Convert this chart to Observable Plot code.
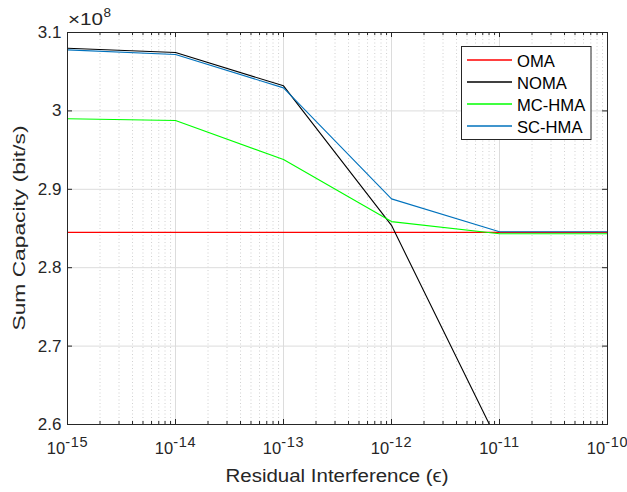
<!DOCTYPE html>
<html><head><meta charset="utf-8">
<script src="https://cdn.jsdelivr.net/npm/d3@7"></script>
<script src="https://cdn.jsdelivr.net/npm/@observablehq/plot@0.6"></script>
<style>
body{margin:0;background:#fff;font-family:"Liberation Sans",Arial,sans-serif;}
#wrap{position:relative;width:627px;height:492px;}
</style></head><body><div id="wrap"></div>
<script>
const epsilon = [1e-15, 1e-14, 1e-13, 1e-12, 1e-11, 1e-10];
const OMA    = [2.845, 2.845, 2.845, 2.845, 2.845, 2.845];
const NOMA   = [3.080, 3.0745, 3.032, 2.854, 2.574, 2.30];
const MC_HMA = [2.990, 2.9877, 2.938, 2.8588, 2.8433, 2.8433];
const SC_HMA = [3.0779, 3.0719, 3.0294, 2.8878, 2.8459, 2.8459];
const seriesNames  = ["OMA", "NOMA", "MC-HMA", "SC-HMA"];
const seriesColors = ["#ff0000", "#000000", "#00ff00", "#0072bd"];
const xTicks = [1e-15, 1e-14, 1e-13, 1e-12, 1e-11, 1e-10];
const yTicks = [2.6, 2.7, 2.8, 2.9, 3.0, 3.1];
const yMultiplierExp = "8";
const xLabel = "Residual Interference (ϵ)";
const yLabel = "Sum Capacity (bit/s)";

const seriesValues = [OMA, NOMA, MC_HMA, SC_HMA];
const rows = [];
seriesNames.forEach((s, i) => epsilon.forEach((e, j) => rows.push({series: s, x: e, y: seriesValues[i][j]})));
const minorX = [];
for (let d = -15; d < -10; d++) for (let k = 2; k <= 9; k++) minorX.push(k * Math.pow(10, d));

const W = 627, H = 492, mL = 67, mR = 20, mT = 32, mB = 68;
const pxY = (3.1 - 2.6) / (H - mT - mB);
const decPerPx = 5 / (W - mL - mR);
const tl = 5, tlm = 3;

const plot = Plot.plot({
  width: W, height: H, marginLeft: mL, marginRight: mR, marginTop: mT, marginBottom: mB,
  x: {type: "log", domain: [1e-15, 1e-10]},
  y: {domain: [2.6, 3.1]},
  color: {domain: seriesNames, range: seriesColors},
  style: {fontFamily: "'Liberation Sans', Arial, sans-serif", fontSize: "16px", color: "#262626", background: "white"},
  marks: [
    Plot.ruleX(minorX, {stroke: "#c4c4c4", strokeDasharray: "1,2.5", strokeWidth: 0.8}),
    Plot.ruleX(xTicks, {stroke: "#dcdcdc", strokeWidth: 1}),
    Plot.ruleY(yTicks, {stroke: "#dcdcdc", strokeWidth: 1}),
    Plot.line(rows, {x: "x", y: "y", stroke: "series", strokeWidth: 1.1, clip: true}),
    Plot.ruleX(xTicks, {x: d => d, y1: 2.6, y2: 2.6 + tl * pxY, stroke: "#262626"}),
    Plot.ruleX(xTicks, {x: d => d, y1: 3.1 - tl * pxY, y2: 3.1, stroke: "#262626"}),
    Plot.ruleX(minorX, {x: d => d, y1: 2.6, y2: 2.6 + tlm * pxY, stroke: "#262626"}),
    Plot.ruleX(minorX, {x: d => d, y1: 3.1 - tlm * pxY, y2: 3.1, stroke: "#262626"}),
    Plot.ruleY(yTicks, {y: d => d, x1: 1e-15, x2: 1e-15 * Math.pow(10, tl * decPerPx), stroke: "#262626"}),
    Plot.ruleY(yTicks, {y: d => d, x1: 1e-10 / Math.pow(10, tl * decPerPx), x2: 1e-10, stroke: "#262626"}),
    Plot.frame({stroke: "#262626"}),
    Plot.axisX(xTicks, {tickSize: 0, tickPadding: 18, fontSize: 16.5, tickFormat: d => "10^" + Math.round(Math.log10(d)), label: null}),
    Plot.axisY(yTicks, {tickSize: 0, tickPadding: 6, fontSize: 17, tickFormat: d => String(+d.toFixed(1)), label: null})
  ]
});

const svg = d3.select(plot);
svg.select('g[aria-label="x-axis tick label"]').selectAll("text").each(function () {
  const t = this.textContent.split("^");
  const s = d3.select(this);
  s.text(null);
  s.append("tspan").text(t[0]);
  s.append("tspan").attr("dy", "-7.5").attr("font-size", "14.5px").attr("letter-spacing", "0.7").text(t[1]);
});
svg.append("text").attr("x", 337).attr("y", 482).attr("text-anchor", "middle")
  .attr("font-size", 17.5).attr("fill", "#262626")
  .attr("textLength", 223).attr("lengthAdjust", "spacingAndGlyphs").text(xLabel);
svg.append("text").attr("transform", "translate(25,228) rotate(-90)").attr("text-anchor", "middle")
  .attr("font-size", 17).attr("fill", "#262626")
  .attr("textLength", 205).attr("lengthAdjust", "spacingAndGlyphs").text(yLabel);
svg.append("text").attr("x", 68).attr("y", 25).attr("text-anchor", "start").attr("font-size", 16).attr("fill", "#262626")
  .attr("textLength", 35).attr("lengthAdjust", "spacingAndGlyphs").text("×10");
svg.append("text").attr("x", 103.5).attr("y", 16.5).attr("text-anchor", "start").attr("font-size", 13.5).attr("fill", "#262626").text(yMultiplierExp);

// legend
const lg = svg.append("g").attr("text-anchor", "start");
lg.append("rect").attr("x", 461.5).attr("y", 46.5).attr("width", 129.5).attr("height", 93)
  .attr("fill", "white").attr("stroke", "#262626").attr("stroke-width", 1);
const lineYs = [60, 82, 104, 126];
seriesNames.forEach((s, i) => {
  lg.append("line").attr("x1", 467).attr("x2", 512).attr("y1", lineYs[i]).attr("y2", lineYs[i])
    .attr("stroke", seriesColors[i]).attr("stroke-width", 1.5);
  lg.append("text").attr("x", 517).attr("y", lineYs[i] + 7.3).attr("font-size", 16.6).attr("fill", "#000").text(s);
});

document.getElementById("wrap").appendChild(plot);
</script></body></html>
